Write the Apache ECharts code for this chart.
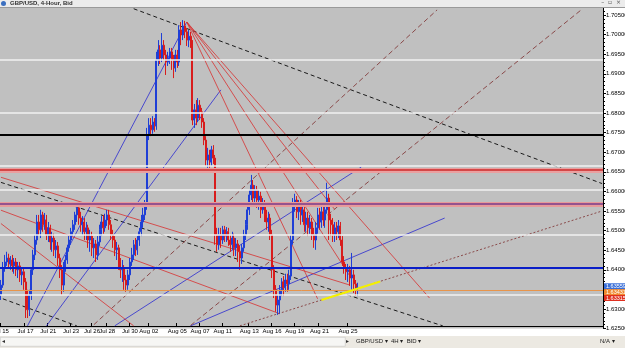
<!DOCTYPE html>
<html><head><meta charset="utf-8">
<script src="https://cdn.jsdelivr.net/npm/echarts@6/dist/echarts.min.js"></script>
<style>html,body{margin:0;padding:0;background:#fff;}#c{width:625px;height:348px;}</style>
</head><body><div id="c"></div>
<script>
// ---- candles: [open, close, low, high] (4-hour bars, GBP/USD bid) ----
const bars = [
[1.6336,1.6361,1.6323,1.6374],[1.6361,1.6405,1.6354,1.6420],[1.6405,1.6420,1.6395,1.6438],[1.6420,1.6430,1.6410,1.6446],
[1.6430,1.6415,1.6405,1.6441],[1.6415,1.6425,1.6400,1.6435],[1.6425,1.6410,1.6395,1.6438],[1.6410,1.6420,1.6390,1.6430],
[1.6420,1.6400,1.6384,1.6430],[1.6400,1.6410,1.6379,1.6420],[1.6410,1.6387,1.6369,1.6420],[1.6387,1.6395,1.6361,1.6405],
[1.6395,1.6369,1.6349,1.6405],[1.6369,1.6323,1.6277,1.6379],[1.6323,1.6298,1.6277,1.6349],[1.6298,1.6336,1.6282,1.6349],
[1.6336,1.6400,1.6323,1.6405],[1.6400,1.6438,1.6387,1.6451],[1.6438,1.6476,1.6425,1.6489],[1.6476,1.6522,1.6464,1.6540],
[1.6522,1.6502,1.6489,1.6540],[1.6502,1.6540,1.6481,1.6553],[1.6540,1.6515,1.6497,1.6548],[1.6515,1.6527,1.6502,1.6545],
[1.6527,1.6489,1.6476,1.6540],[1.6489,1.6507,1.6471,1.6522],[1.6507,1.6471,1.6451,1.6515],[1.6471,1.6481,1.6446,1.6497],
[1.6481,1.6451,1.6435,1.6492],[1.6451,1.6461,1.6430,1.6476],[1.6461,1.6430,1.6410,1.6471],[1.6430,1.6400,1.6379,1.6441],
[1.6400,1.6361,1.6336,1.6412],[1.6361,1.6405,1.6344,1.6420],[1.6405,1.6425,1.6395,1.6438],[1.6425,1.6456,1.6415,1.6464],
[1.6456,1.6476,1.6446,1.6486],[1.6476,1.6497,1.6464,1.6507],[1.6497,1.6515,1.6486,1.6527],[1.6515,1.6540,1.6502,1.6548],
[1.6540,1.6558,1.6522,1.6565],[1.6558,1.6532,1.6515,1.6565],[1.6532,1.6515,1.6497,1.6548],[1.6515,1.6522,1.6489,1.6537],
[1.6522,1.6497,1.6476,1.6532],[1.6497,1.6507,1.6476,1.6522],[1.6507,1.6476,1.6456,1.6515],[1.6476,1.6486,1.6446,1.6502],
[1.6486,1.6456,1.6435,1.6497],[1.6456,1.6466,1.6430,1.6481],[1.6466,1.6438,1.6420,1.6476],[1.6438,1.6471,1.6425,1.6486],
[1.6471,1.6502,1.6461,1.6515],[1.6502,1.6522,1.6486,1.6537],[1.6522,1.6507,1.6492,1.6540],[1.6507,1.6527,1.6497,1.6543],
[1.6527,1.6540,1.6512,1.6553],[1.6540,1.6515,1.6502,1.6553],[1.6515,1.6489,1.6476,1.6527],[1.6489,1.6476,1.6456,1.6502],
[1.6476,1.6451,1.6435,1.6486],[1.6451,1.6456,1.6425,1.6471],[1.6456,1.6420,1.6400,1.6464],[1.6420,1.6400,1.6379,1.6430],
[1.6400,1.6405,1.6369,1.6425],[1.6405,1.6374,1.6349,1.6412],[1.6374,1.6361,1.6344,1.6387],[1.6361,1.6387,1.6349,1.6400],
[1.6387,1.6420,1.6374,1.6430],[1.6420,1.6438,1.6410,1.6456],[1.6438,1.6464,1.6425,1.6476],[1.6464,1.6451,1.6435,1.6481],
[1.6451,1.6476,1.6438,1.6486],[1.6476,1.6497,1.6461,1.6507],[1.6497,1.6522,1.6486,1.6540],[1.6522,1.6540,1.6507,1.6558],
[1.6540,1.6565,1.6527,1.6578],[1.6565,1.6744,1.6553,1.6762],[1.6744,1.6769,1.6731,1.6787],[1.6769,1.6757,1.6741,1.6787],
[1.6757,1.6777,1.6747,1.6792],[1.6777,1.6767,1.6752,1.6787],[1.6767,1.6935,1.6757,1.6956],[1.6935,1.6961,1.6920,1.6986],
[1.6961,1.6940,1.6925,1.6973],[1.6940,1.6973,1.6930,1.7004],[1.6973,1.6948,1.6935,1.6986],[1.6948,1.6930,1.6897,1.6961],
[1.6930,1.6940,1.6920,1.6956],[1.6940,1.6956,1.6925,1.6966],[1.6956,1.6935,1.6910,1.6966],[1.6935,1.6915,1.6889,1.6948],
[1.6915,1.6948,1.6905,1.6961],[1.6948,1.6930,1.6915,1.6961],[1.6930,1.7012,1.6920,1.7024],[1.7012,1.6999,1.6973,1.7032],
[1.6999,1.7022,1.6986,1.7037],[1.7022,1.7007,1.6991,1.7035],[1.7007,1.6986,1.6971,1.7017],[1.6986,1.6996,1.6968,1.7012],
[1.6996,1.6976,1.6966,1.7007],[1.6976,1.6782,1.6769,1.6986],[1.6782,1.6808,1.6762,1.6823],[1.6808,1.6787,1.6769,1.6833],
[1.6787,1.6820,1.6777,1.6838],[1.6820,1.6803,1.6782,1.6833],[1.6803,1.6777,1.6762,1.6813],[1.6777,1.6731,1.6718,1.6787],
[1.6731,1.6680,1.6665,1.6741],[1.6680,1.6693,1.6660,1.6711],[1.6693,1.6675,1.6660,1.6706],[1.6675,1.6706,1.6665,1.6716],
[1.6706,1.6685,1.6670,1.6718],[1.6685,1.6489,1.6464,1.6693],[1.6489,1.6464,1.6446,1.6507],[1.6464,1.6489,1.6451,1.6507],
[1.6489,1.6476,1.6456,1.6507],[1.6476,1.6502,1.6466,1.6512],[1.6502,1.6486,1.6471,1.6512],[1.6486,1.6497,1.6471,1.6509],
[1.6497,1.6476,1.6461,1.6507],[1.6476,1.6464,1.6446,1.6489],[1.6464,1.6481,1.6451,1.6497],[1.6481,1.6456,1.6435,1.6492],
[1.6456,1.6466,1.6435,1.6481],[1.6466,1.6446,1.6420,1.6476],[1.6446,1.6430,1.6400,1.6461],[1.6430,1.6456,1.6415,1.6466],
[1.6456,1.6489,1.6446,1.6502],[1.6489,1.6515,1.6476,1.6527],[1.6515,1.6553,1.6502,1.6565],[1.6553,1.6591,1.6540,1.6604],
[1.6591,1.6616,1.6578,1.6642],[1.6616,1.6583,1.6568,1.6629],[1.6583,1.6604,1.6565,1.6616],[1.6604,1.6578,1.6558,1.6614],
[1.6578,1.6588,1.6553,1.6604],[1.6588,1.6553,1.6532,1.6599],[1.6553,1.6568,1.6543,1.6583],[1.6568,1.6540,1.6522,1.6578],
[1.6540,1.6522,1.6502,1.6553],[1.6522,1.6532,1.6497,1.6548],[1.6532,1.6489,1.6476,1.6543],[1.6489,1.6400,1.6379,1.6502],
[1.6400,1.6349,1.6328,1.6412],[1.6349,1.6310,1.6293,1.6361],[1.6310,1.6323,1.6285,1.6336],[1.6323,1.6349,1.6288,1.6361],
[1.6349,1.6369,1.6333,1.6379],[1.6369,1.6354,1.6333,1.6384],[1.6354,1.6374,1.6344,1.6390],[1.6374,1.6364,1.6344,1.6390],
[1.6364,1.6384,1.6349,1.6400],[1.6384,1.6476,1.6374,1.6489],[1.6476,1.6565,1.6464,1.6583],[1.6565,1.6578,1.6548,1.6594],
[1.6578,1.6548,1.6532,1.6588],[1.6548,1.6565,1.6527,1.6578],[1.6565,1.6540,1.6515,1.6578],[1.6540,1.6553,1.6522,1.6573],
[1.6553,1.6515,1.6497,1.6565],[1.6515,1.6532,1.6497,1.6548],[1.6532,1.6507,1.6486,1.6548],[1.6507,1.6522,1.6492,1.6540],
[1.6522,1.6489,1.6476,1.6532],[1.6489,1.6476,1.6456,1.6507],[1.6476,1.6507,1.6451,1.6522],[1.6507,1.6540,1.6492,1.6558],
[1.6540,1.6522,1.6502,1.6558],[1.6522,1.6548,1.6507,1.6565],[1.6548,1.6527,1.6512,1.6563],[1.6527,1.6553,1.6507,1.6568],
[1.6553,1.6583,1.6543,1.6622],[1.6583,1.6527,1.6476,1.6594],[1.6527,1.6515,1.6486,1.6543],[1.6515,1.6489,1.6471,1.6532],
[1.6489,1.6507,1.6471,1.6522],[1.6507,1.6497,1.6476,1.6522],[1.6497,1.6512,1.6481,1.6527],[1.6512,1.6476,1.6461,1.6522],
[1.6476,1.6420,1.6410,1.6486],[1.6420,1.6405,1.6390,1.6435],[1.6405,1.6395,1.6374,1.6415],[1.6395,1.6400,1.6369,1.6415],
[1.6400,1.6379,1.6359,1.6410],[1.6379,1.6387,1.6349,1.6443],[1.6387,1.6364,1.6341,1.6400],[1.6364,1.6349,1.6333,1.6374],
[1.6349,1.6356,1.6333,1.6367]
];
const slotCount = 318;                         // bar slots across the window (incl. empty right margin)
const xLabelIdx  = [0, 13, 25, 37, 48, 56, 68, 78, 93, 105, 117, 131, 143, 155, 168, 183];
const xLabelText = ['Jul 15','Jul 17','Jul 21','Jul 23','Jul 26','Jul 28','Jul 30','Aug 02','Aug 05','Aug 07','Aug 11','Aug 13','Aug 16','Aug 19','Aug 21','Aug 25'];

// horizontal levels
const whiteLevels = [1.6935, 1.6800, 1.6665, 1.6604, 1.6490, 1.6336];
const blackLevel = 1.6745;
const redLevel = 1.6655;
const purpleLevel = 1.6568;
const blueLevel = 1.6404;
const orangeLevel = 1.6347;
const priceTags = [['1.63559', 1.6358, '#3a6fd8'], ['1.63431', 1.6343, '#f08a30'], ['1.63315', 1.6328, '#e03020']];

// trend lines: [[barIdx, price], [barIdx, price]]
const blackDashed = [[[70,1.7066],[317,1.6620]], [[0,1.6623],[233,1.6257]], [[1,1.6326],[40,1.6257]]];
const blueLines = [[[14,1.6257],[98,1.7032]], [[24,1.6257],[116,1.6859]], [[60,1.6257],[190,1.6662]], [[100,1.6257],[234,1.6532]]];
const brownDashed = [[[49,1.6260],[230,1.7063]], [[100,1.6258],[306,1.7063]]];
const brownDotted = [[[126,1.6257],[317,1.6550]]];
const yellowLine = [[169,1.6323],[200,1.6370]];
const redLines = [
  [[98,1.7032],[167,1.6326]], [[98,1.7032],[184,1.6384]], [[98,1.7032],[176,1.6554]], [[98,1.7032],[226,1.6328]],
  [[0,1.6636],[184,1.6361]], [[0,1.6552],[147,1.6288]], [[0,1.6518],[70,1.6257]]
];

const chart = echarts.init(document.getElementById('c'));
const cats = []; for (let i = 0; i < slotCount; i++) cats.push(String(i));
const lbl = {}; xLabelIdx.forEach((k, j) => lbl[k] = xLabelText[j]);

function seg(d, color, width, type, z) {
  return { type: 'line', data: d, symbol: 'none', silent: true, animation: false, z: z || 3,
    lineStyle: { color: color, width: width, type: type || 'solid' } };
}
const series = [];
const hl = (v, color, w) => ({ yAxis: v, lineStyle: { color: color, width: w, type: 'solid' } });
series.push({
  type: 'candlestick', data: bars, barWidth: 1.5, z: 4, animation: false,
  itemStyle: { color: '#5a7cf0', color0: '#f06464', borderColor: '#1f3fd6', borderColor0: '#d81c1c', borderWidth: 1 },
  markLine: { symbol: 'none', silent: true, animation: false, precision: 5, label: { show: false },
    data: whiteLevels.map(v => hl(v, '#f2f2f2', 1.5))
      .concat([hl(blackLevel, '#000', 2), hl(redLevel, '#eaa0a0', 5), hl(redLevel, '#cc2a2a', 1.6),
               hl(purpleLevel, '#e89a9a', 5), hl(purpleLevel, '#7a3a8a', 1.6),
               hl(blueLevel, '#0a1ec8', 2), hl(orangeLevel, '#e8944a', 1)]) }
});
blackDashed.forEach(d => series.push(seg(d, '#1a1a1a', 1, [4, 3])));
blueLines.forEach(d => series.push(seg(d, '#2a2ad0', 0.8)));
brownDashed.forEach(d => series.push(seg(d, '#8a4a4a', 1, [5, 3])));
brownDotted.forEach(d => series.push(seg(d, '#8a4a4a', 1, [2, 2])));
redLines.forEach(d => series.push(seg(d, '#d83030', 0.8)));
series.push(seg(yellowLine, '#f4f000', 2.2, 'solid', 5));

const baseGraphic = [
    { type: 'rect', left: 0, top: 0, shape: { width: 625, height: 7 }, style: { fill: '#ececec' }, z: 100 },
    { type: 'rect', left: 0, top: 7, shape: { width: 625, height: 1 }, style: { fill: '#9a9a9a' }, z: 100 },
    { type: 'circle', left: 1, top: 1, shape: { r: 2.5 }, style: { fill: '#3b6fc0' }, z: 101 },
    { type: 'text', left: 10, top: 0, style: { text: 'GBP/USD, 4-Hour, Bid', fontSize: 6, fontWeight: 'bold', fill: '#303030', fontFamily: 'Liberation Sans' }, z: 101 },
    { type: 'text', right: 4, top: -1, style: { text: '–  ▫  ×', fontSize: 6, fill: '#555', fontFamily: 'DejaVu Sans' }, z: 101 },
    { type: 'rect', left: 0, top: 336, shape: { width: 625, height: 12 }, style: { fill: '#ece9e2' }, z: 100 },
    { type: 'rect', left: 0, top: 337, shape: { width: 345, height: 9 }, style: { fill: '#f6f6f4', stroke: '#b8b8b8', lineWidth: 0.5 }, z: 101 },
    { type: 'text', left: 2, top: 338, style: { text: '◂', fontSize: 6, fill: '#333' }, z: 102 },
    { type: 'text', left: 346, top: 338, style: { text: '▸', fontSize: 6, fill: '#333' }, z: 102 },
    { type: 'text', left: 356, top: 338, style: { text: 'GBP/USD ▾  4H ▾  BID ▾', fontSize: 6, fill: '#222', fontFamily: 'Liberation Sans' }, z: 102 },
    { type: 'text', left: 600, top: 338, style: { text: 'N/A ▾', fontSize: 6, fill: '#222', fontFamily: 'Liberation Sans' }, z: 102 }
];

chart.setOption({
  animation: false,
  backgroundColor: '#ffffff',
  grid: { left: 0, right: 22, top: -4.6, bottom: 19.4, outerBoundsMode: 'none', containLabel: false,
          show: true, backgroundColor: '#c0c0c0', borderWidth: 0 },
  xAxis: { type: 'category', data: cats, boundaryGap: true, offset: -2.6,
    axisLine: { show: true, lineStyle: { color: '#000', width: 1 } },
    axisTick: { show: true, interval: (i) => lbl[i] !== undefined, length: 3, inside: true, lineStyle: { color: '#000' } },
    axisLabel: { interval: (i) => lbl[i] !== undefined, formatter: (v, i) => lbl[i] || '', fontSize: 6, color: '#000', margin: 2, fontFamily: 'Liberation Sans', hideOverlap: false },
    splitLine: { show: false } },
  yAxis: { type: 'value', position: 'right', min: 1.625, max: 1.710, interval: 0.005,
    axisLine: { show: true, lineStyle: { color: '#000' } },
    axisTick: { show: true, length: 3, lineStyle: { color: '#000' } },
    minorTick: { show: true, splitNumber: 5, length: 2, lineStyle: { color: '#000' } },
    axisLabel: { formatter: v => v.toFixed(5), fontSize: 6, color: '#000', margin: 3, fontFamily: 'Liberation Sans' },
    splitLine: { show: false } },
  series: series,
  graphic: baseGraphic
});

// price tags on the right axis, positioned through the axis scale
const tags = priceTags.map(t => {
  const y = chart.convertToPixel({ yAxisIndex: 0 }, t[1]);
  return { type: 'group', z: 110, children: [
    { type: 'rect', shape: { x: 604, y: y - 3, width: 21, height: 6 }, style: { fill: t[2] }, z: 110 },
    { type: 'text', style: { x: 606, y: y - 3, text: t[0], fontSize: 5.5, fill: '#fff', fontFamily: 'Liberation Sans' }, z: 111 }
  ]};
});
chart.setOption({ graphic: baseGraphic.concat(tags) }, { replaceMerge: ['graphic'] });
</script></body></html>
